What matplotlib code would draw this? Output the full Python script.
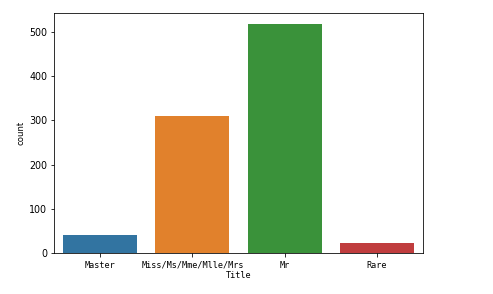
import matplotlib
matplotlib.use('Agg')
import matplotlib.pyplot as plt

titles = ['Master', 'Miss/Ms/Mme/Mlle/Mrs', 'Mr', 'Rare']
counts = [40, 311, 517, 23]
colors = ['#3274a1', '#e1812c', '#3a923a', '#c03d3e']

fig = plt.figure(figsize=(493 / 72, 294 / 72), dpi=72)
ax = fig.add_axes([54 / 493, 1 - 253 / 294, (423 - 54) / 493, (253 - 13) / 294])

x = range(len(titles))
ax.bar(x, counts, width=0.8, color=colors)
ax.set_xlim(-0.5, len(titles) - 0.5)
ax.set_ylim(0, max(counts) * 1.05)

ax.set_xticks(list(x))
ax.set_xticklabels(titles, family='DejaVu Sans Mono', fontsize=8.5)
ax.tick_params(axis='x', pad=4)
ax.set_yticks([0, 100, 200, 300, 400, 500])
ax.tick_params(axis='y', labelsize=9.5)
ax.set_xlabel('Title', family='DejaVu Sans Mono', fontsize=8.5, labelpad=1)
ax.set_ylabel('count', fontsize=8.5, labelpad=3)

fig.savefig('out.png', dpi=72)
